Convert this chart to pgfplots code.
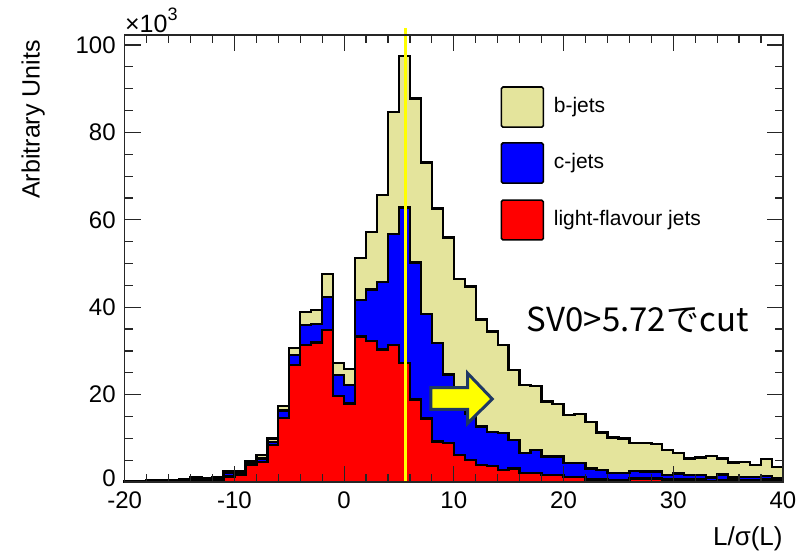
\documentclass[border=0pt]{standalone}
\usepackage{fontspec}
\setmainfont{Liberation Sans}
\newfontfamily\jpfont{Noto Sans CJK JP}
\usepackage{pgfplots}
\usepackage{pgfplotstable}
\pgfplotsset{compat=1.18}
\definecolor{bjet}{HTML}{E4E49C}
\definecolor{navy}{HTML}{1F3864}

% x = left bin edge; T = total (b+c+light), C = c+light, L = light-flavour
\pgfplotstableread{
x   T     C     L
-20 0.2   0.1   0.05
-19 0.2   0.1   0.05
-18 0.3   0.15  0.1
-17 0.3   0.2   0.1
-16 0.4   0.3   0.1
-15 0.6   0.5   0.2
-14 1.0   0.8   0.4
-13 0.8   0.6   0.2
-12 1.1   0.9   0.3
-11 2.4   2.1   1.3
-10 2.4   2.1   1.6
-9  4.8   4.3   3.9
-8  6.2   5.4   4.6
-7  10.0  9.2   8.5
-6  17.4  16.4  14.7
-5  30.6  29.1  26.8
-4  38.9  35.9  31.3
-3  39.3  36.2  31.9
-2  47.6  42.4  34.8
-1  27.2  24.5  19.7
0   25.9  22.2  18.0
1   51.2  41.7  33.3
2   57.2  44.1  32.3
3   65.7  45.8  30.3
4   84.7  56.7  31.4
5   97.5  62.8  27.2
6   87.8  50.2  18.9
7   73.1  38.5  14.5
8   62.6  31.8  9.3
9   56.0  24.6  8.9
10  46.4  19.5  6.2
11  44.7  15.5  5.1
12  37.2  12.7  3.9
13  34.4  11.5  3.6
14  31.4  11.2  2.7
15  25.6  9.6   3.1
16  22.2  6.6   2.0
17  22.0  7.3   2.0
18  18.4  5.8   1.6
19  17.9  5.8   1.6
20  15.3  4.4   1.2
21  15.6  4.4   1.2
22  13.8  3.1   0.6
23  11.3  2.7   0.6
24  10.2  2.1   0.4
25  10.0  2.1   0.4
26  8.9   2.5   0.8
27  8.9   2.4   0.8
28  8.7   2.4   0.8
29  7.3   1.6   0.6
30  6.6   1.9   0.6
31  5.4   1.6   0.6
32  5.6   1.6   0.6
33  6.0   1.0   0.1
34  5.4   1.7   0.5
35  4.5   1.0   0.3
36  4.6   1.2   0.4
37  3.9   1.2   0.3
38  5.2   1.4   0.6
39  3.5   0.8   0.3
40  3.5   0.8   0.3
}\histdata

\begin{document}
\begin{tikzpicture}
\path[use as bounding box] (-62.35pt,-38pt) rectangle (337.65pt,241pt);
\begin{axis}[
  at={(0,0)}, anchor=south west,
  scale only axis, width=329.15pt, height=223.5pt,
  xmin=-20, xmax=40, ymin=0, ymax=102.3,
  xtick={-20,-10,...,40}, minor x tick num=4,
  ytick={0,20,...,100}, minor y tick num=3,
  yticklabels={\raisebox{4pt}{0},20,40,60,80,100},
  tick align=inside,
  major tick length=8pt, minor tick length=4pt,
  axis line style={line width=0.6pt, black!85},
  every tick/.style={black!85, line width=0.6pt},
  /pgf/number format/assume math mode=true,
  ticklabel style={font=\fontsize{12}{14}\selectfont},
  xticklabel style={yshift=-1.5pt},
  yticklabel style={xshift=-1pt},
  axis on top,
  clip=false,
]
\addplot[const plot, fill=bjet, draw=black, line width=1.2pt] table[x=x,y=T]{\histdata} \closedcycle;
\addplot[const plot, fill=blue, draw=black, line width=1.2pt] table[x=x,y=C]{\histdata} \closedcycle;
\addplot[const plot, fill=red, draw=black, line width=1.2pt] table[x=x,y=L]{\histdata} \closedcycle;

\draw[color={rgb,255:red,255;green,255;blue,0}, line width=1.5pt] (axis cs:5.62,0) -- (axis cs:5.62,103.9);

\draw[navy, line width=1.5pt, fill={rgb,255:red,255;green,255;blue,0}, line join=miter]
  (axis cs:7.9,21.6) -- (axis cs:11.25,21.6) -- (axis cs:11.25,24.9) -- (axis cs:13.5,19.0)
  -- (axis cs:11.25,13.4) -- (axis cs:11.25,16.6) -- (axis cs:7.9,16.6) -- cycle;

% legend
\draw[fill=bjet, line width=0.8pt, rounded corners=0.8pt] (axis cs:14.33,90.4) rectangle (axis cs:18.16,81.2);
\draw[fill=blue, line width=0.8pt, rounded corners=0.8pt] (axis cs:14.33,77.6) rectangle (axis cs:18.16,68.4);
\draw[fill=red, line width=0.8pt, rounded corners=0.8pt] (axis cs:14.33,64.5) rectangle (axis cs:18.16,55.4);
\node[anchor=west, inner sep=0pt, font=\fontsize{10.5}{12}\selectfont] at (axis cs:19.08,85.8) {b-jets};
\node[anchor=west, inner sep=0pt, font=\fontsize{10.5}{12}\selectfont] at (axis cs:19.08,73.0) {c-jets};
\node[anchor=west, inner sep=0pt, font=\fontsize{10.5}{12}\selectfont] at (axis cs:19.08,60.0) {light-flavour jets};

\node[anchor=base west, inner sep=0pt, font=\jpfont\fontsize{16.5}{18}\selectfont] at (axis cs:16.62,34.4) {SV0>5.72でcut};

\node[anchor=base west, inner sep=0pt, font=\fontsize{12.5}{13}\selectfont] at ([yshift=1.2pt]rel axis cs:0,1) {×10\raisebox{0.5em}{\fontsize{9}{10}\selectfont 3}};
\node[anchor=north east, inner sep=0pt, font=\fontsize{13}{15}\selectfont] at ([yshift=-22pt]rel axis cs:1,0) {L/σ(L)};
\node[rotate=90, anchor=east, inner sep=0pt, font=\fontsize{12.5}{14}\selectfont] at (axis description cs:-0.139,0.989) {Arbitrary Units};
\end{axis}
\end{tikzpicture}
\end{document}
